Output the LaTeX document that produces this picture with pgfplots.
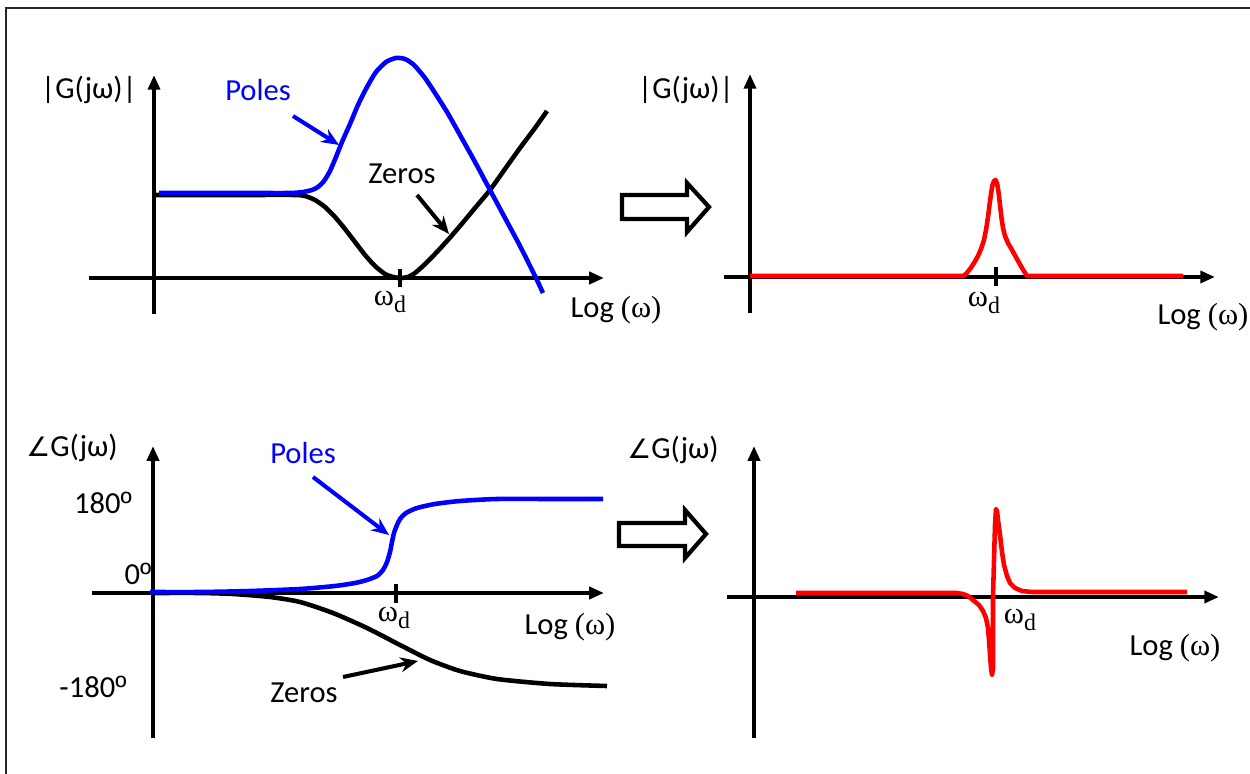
\documentclass[border=0pt]{standalone}
\usepackage{pgfplots}
\pgfplotsset{compat=1.18}
\usepackage{fontspec}
\setmainfont{Carlito}
\newfontfamily\tnr{Liberation Serif}
\newfontfamily\dv{DejaVu Sans}
\newfontfamily\lsans{Liberation Sans}
\usetikzlibrary{arrows.meta}

\definecolor{pblue}{RGB}{0,0,255}
\definecolor{zred}{RGB}{255,0,0}

% omega_d, the log-frequency label, angle sign and degree mark
\newcommand{\omd}{{\tnr ω\raisebox{-0.45ex}{\fontsize{6.8}{7}\selectfont d}}}
\newcommand{\logw}{Log {\tnr(ω)}}
\newcommand{\ang}{{\dv\fontsize{7.6}{9}\selectfont ∠}}
\newcommand{\dg}{{\lsans º}}

\tikzset{
  ax/.style={line width=1.25pt, -{Triangle[length=4.2pt,width=3.4pt]}},
  tk/.style={line width=1.25pt},
  note/.style={line width=1.15pt, -{Stealth[length=5pt,width=4.2pt]}},
  curve/.style={line width=1.3pt, smooth, tension=0.4, no markers, line join=round},
  lbl/.style={font=\fontsize{8.7}{10}\selectfont, inner sep=0pt},
}

\begin{document}
\begin{tikzpicture}
\useasboundingbox (0,0) rectangle (12.5cm,7.74cm);
\begin{axis}[
  at={(0,0)}, anchor=south west,
  width=12.5cm, height=7.74cm, scale only axis,
  xmin=0, xmax=1250, ymin=0, ymax=774, y dir=reverse,
  enlargelimits=false, hide axis, clip=false,
]
% frame
\draw[line width=0.7pt, black!85] (6,774) -- (6,8) -- (1250,8);

% ---------- magnitude, poles and zeros ----------
\draw[ax] (154,314) -- (154,75);
\draw[ax] (89,278) -- (604,278);
\draw[tk] (400,269) -- (400,287);
\addplot[curve, black] coordinates {
 (154,195) (200,195) (250,195) (295,195) (305,196) (315,200) (325,207)
 (335,217) (345,229) (355,242) (365,255) (375,266) (385,274) (393,277)
 (400,278) (408,277) (415,273) (423,266) (435,254) (447,241) (460,226)
 (475,208) (490,190) (505,169) (520,148) (535,128) (547,111)};
\addplot[curve, pblue] coordinates {
 (159,193) (200,193) (250,193) (290,193) (303,192) (312,190) (318,187)
 (324,181) (330,171) (336,157) (342,142) (350,124) (358,105) (367,87)
 (376,72) (386,62) (396,58) (405,59) (414,65) (425,78) (435,93) (447,112)
 (460,135) (475,162) (490,190) (505,218) (520,246) (535,276) (543,293)};
\node[lbl] at (89,90) {|G(jω)|};
\node[lbl, text=pblue] at (258,90) {Poles};
\draw[note, pblue] (293,116) -- (339,145);
\node[lbl] at (402,174) {Zeros};
\draw[note] (417,195) -- (449,234);
\node[lbl] at (390,302) {\omd};
\node[lbl] at (616,310) {\logw};

% block arrow
\draw[line width=1.2pt, fill=white]
 (622,195) -- (687,195) -- (687,183) -- (709,207) -- (687,232) -- (687,219) -- (622,219) -- cycle;

% ---------- magnitude, notch filter ----------
\draw[ax] (750,313) -- (750,74);
\draw[ax] (724,277) -- (1215,277);
\draw[tk] (996,267) -- (996,286);
\addplot[line width=1.3pt, zred, no markers, line join=round] coordinates {
 (750,276) (963,276) (966,274) (970,269) (974,263) (978,256) (981,249)
 (984,240) (986,230) (988,217) (989.5,205) (991,194) (992.5,185) (994,181)
 (995.5,180) (997,183) (998.5,192) (1000,205) (1001.5,218) (1003,228)
 (1005,236) (1008,243) (1012,250) (1017,259) (1022,268) (1027,276) (1183,276)};
\node[lbl] at (686,90) {|G(jω)|};
\node[lbl] at (984,303) {\omd};
\node[lbl, anchor=east] at (1249,317) {\logw};

% ---------- phase, poles and zeros ----------
\draw[ax] (153,738) -- (153,446);
\draw[ax] (92,593) -- (604,593);
\draw[tk] (396,584) -- (396,603);
\addplot[curve, black] coordinates {
 (153,593) (200,593) (233,594) (270,597) (300,602) (333,613) (367,628)
 (400,645) (430,660) (460,671) (497,679) (550,684) (607,686)};
\addplot[curve, pblue] coordinates {
 (150,592) (200,592) (250,591) (300,589) (335,586) (355,583) (367,580)
 (377,576) (383,570) (387,562) (390,552) (392,542) (394,533) (397,525)
 (400,519) (406,513) (417,508) (435,504) (460,501) (497,499) (550,499) (603,499)};
\node[lbl] at (72,448) {\ang G(jω)};
\node[lbl] at (103,503) {180\dg};
\node[lbl] at (138,574) {0\dg};
\node[lbl] at (93,687) {-180\dg};
\node[lbl, text=pblue] at (303,453) {Poles};
\draw[note, pblue] (313,477) -- (389,535);
\node[lbl] at (304,693) {Zeros};
\draw[note] (343,677) -- (418,661);
\node[lbl] at (394,618) {\omd};
\node[lbl] at (570,627) {\logw};

% block arrow
\draw[line width=1.2pt, fill=white]
 (619,523) -- (685,523) -- (685,510) -- (706,534) -- (685,558) -- (685,546) -- (619,546) -- cycle;

% ---------- phase, notch filter ----------
\draw[ax] (754,738) -- (754,446);
\draw[ax] (727,597) -- (1219,597);
\addplot[line width=1.3pt, zred, no markers, line join=round] coordinates {
 (796,593) (957,593) (963,594) (968,596) (973,600) (979,605) (983,611)
 (986,618) (988,628) (989,640) (990,655) (991,668) (992,675) (993,668)
 (993,620) (993,597) (994,560) (995,525) (996,509) (997,511) (998,520)
 (1000,535) (1002,552) (1004,565) (1007,576) (1010,583) (1015,588)
 (1022,591) (1032,592) (1187,592)};
\node[lbl] at (673,450) {\ang G(jω)};
\node[lbl] at (1020,620) {\omd};
\node[lbl] at (1175,648) {\logw};
\end{axis}
\end{tikzpicture}
\end{document}
